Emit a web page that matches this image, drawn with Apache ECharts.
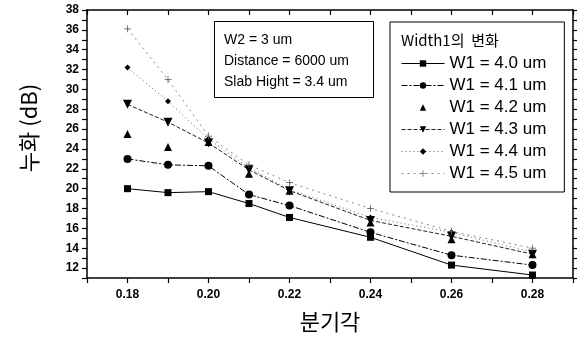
<!DOCTYPE html>
<html>
<head>
<meta charset="utf-8">
<script src="https://cdn.jsdelivr.net/npm/echarts@6/dist/echarts.min.js"></script>
<style>
  html, body { margin: 0; padding: 0; background: #fff; }
  #chart { width: 580px; height: 338px; }
</style>
</head>
<body>
<div id="chart"></div>
<script>
// 분기각 (x)
const angles = [0.18, 0.19, 0.20, 0.21, 0.22, 0.24, 0.26, 0.28]
// 누화 (dB) per W1
const w40 = [20.0, 19.6, 19.7, 18.5, 17.1, 15.1, 12.3, 11.3]
const w41 = [23.0, 22.4, 22.3, 19.4, 18.3, 15.6, 13.3, 12.3]
const w42 = [25.5, 24.2, 24.7, 21.5, 19.8, 16.6, 14.9, 13.4]
const w43 = [28.5, 26.7, 24.6, 21.9, 19.8, 16.8, 15.2, 13.4]
const w44 = [32.2, 28.8, 25.0, 22.1, 19.9, 17.1, 15.6, 13.6]
const w45 = [36.1, 31.0, 25.3, 22.4, 20.6, 18.0, 15.7, 14.0]
const seriesNames = ['W1 = 4.0 um', 'W1 = 4.1 um', 'W1 = 4.2 um', 'W1 = 4.3 um', 'W1 = 4.4 um', 'W1 = 4.5 um']
const noteLines = ['W2 = 3 um', 'Distance = 6000 um', 'Slab Hight = 3.4 um']

const pairs = (ys) => angles.map((x, i) => [x, ys[i]])
const plusIcon = 'path://M4,0h1v9h-1zM0,4h9v1h-9z'
const fontEn = '"Liberation Sans", Arial, sans-serif'
const fontKr = '"Noto Sans CJK KR", sans-serif'

const chart = echarts.init(document.getElementById('chart'), null, { renderer: 'canvas' })

const axisBase = {
  axisLine: { show: true, onZero: false, lineStyle: { color: '#000', width: 1.5 } },
  splitLine: { show: false }
}

const mk = (name, data, symbol, size, lineStyle, color) => ({
  name,
  type: 'line',
  data: pairs(data),
  symbol,
  symbolSize: size,
  itemStyle: { color: color || '#000' },
  lineStyle,
  emphasis: { disabled: true },
  animation: false
})

// 범례: 4.2 는 선 없이 기호만
const legendData = seriesNames.map((name, i) =>
  i === 2 ? { name, lineStyle: { width: 0, opacity: 0 } } : { name })

chart.setOption({
  backgroundColor: '#fff',
  animation: false,
  grid: { left: 87, right: 7, top: 10, bottom: 59 },
  xAxis: [
    {
      ...axisBase,
      type: 'value', min: 0.17, max: 0.29, interval: 0.01,
      name: '분기각', nameLocation: 'middle', nameGap: 33,
      nameTextStyle: { fontFamily: fontKr, fontSize: 22, color: '#000' },
      axisTick: { show: true, inside: false, length: 5, lineStyle: { color: '#000', width: 1.2 } },
      axisLabel: {
        color: '#000', fontWeight: 'bold', fontSize: 12, fontFamily: fontEn, margin: 11,
        formatter: (v) => {
          const k = Math.round(v * 100)
          return (k % 2 === 0 && k >= 18 && k <= 28) ? (k / 100).toFixed(2) : ''
        }
      }
    },
    {
      ...axisBase,
      type: 'value', position: 'top', min: 0.17, max: 0.29, interval: 0.01,
      axisTick: { show: true, inside: true, length: 5, lineStyle: { color: '#000', width: 1.2 } },
      axisLabel: { show: false }
    }
  ],
  yAxis: [
    {
      ...axisBase,
      type: 'value', min: 11, max: 38, interval: 1,
      axisTick: { show: true, inside: false, length: 5, lineStyle: { color: '#000', width: 1.2 } },
      axisLabel: {
        color: '#000', fontWeight: 'bold', fontSize: 12, fontFamily: fontEn, margin: 8,
        formatter: (v) => (v % 2 === 0 ? String(v) : '')
      }
    },
    {
      ...axisBase,
      type: 'value', position: 'right', min: 11, max: 38, interval: 1,
      axisTick: { show: true, inside: false, length: 4, lineStyle: { color: '#000', width: 1.2 } },
      axisLabel: { show: false }
    }
  ],
  legend: {
    orient: 'vertical',
    left: 390, top: 22,
    padding: [33, 18, 10, 11],
    itemGap: 5,
    itemWidth: 43,
    itemHeight: 8,
    borderColor: '#000',
    borderWidth: 1,
    backgroundColor: '#fff',
    selectedMode: false,
    lineStyle: { width: 1 },
    textStyle: { fontFamily: fontEn, fontSize: 17, color: '#000', lineHeight: 17 },
    data: legendData
  },
  graphic: [
    {
      type: 'text', left: 401, top: 33, silent: true, z: 100,
      style: { text: 'Width1의  변화', font: '15px ' + fontKr, fill: '#000' }
    },
    {
      type: 'text', x: 29, y: 128, rotation: Math.PI / 2, silent: true, z: 100,
      style: { text: '누화 (dB)', font: '22px ' + fontKr, fill: '#000', align: 'center', verticalAlign: 'middle' }
    },
    {
      type: 'rect', left: 214, top: 21, silent: true, z: 50,
      shape: { width: 159, height: 76 },
      style: { fill: '#fff', stroke: '#000', lineWidth: 1 }
    },
    {
      type: 'text', left: 224, top: 30, silent: true, z: 51,
      style: { text: noteLines.join('\n'), font: '14px ' + fontEn, lineHeight: 21, fill: '#000' }
    }
  ],
  series: [
    mk(seriesNames[0], w40, 'rect', 7, { color: '#000', width: 1, type: 'solid' }),
    mk(seriesNames[1], w41, 'circle', 8, { color: '#000', width: 1, type: [6, 2, 2, 2] }),
    mk(seriesNames[2], w42, 'triangle', 8, { width: 0 }),
    mk(seriesNames[3], w43, 'triangle', 9, { color: '#222', width: 1, type: [4, 2] }),
    mk(seriesNames[4], w44, 'diamond', 6, { color: '#666', width: 1, type: [1, 3] }),
    mk(seriesNames[5], w45, plusIcon, 7, { color: '#888', width: 1, type: [2, 4] }, '#555')
  ]
})
// inverted triangle for W1 = 4.3
chart.setOption({ series: [{}, {}, {}, { symbolRotate: 180 }, {}, {}] })
</script>
</body>
</html>
